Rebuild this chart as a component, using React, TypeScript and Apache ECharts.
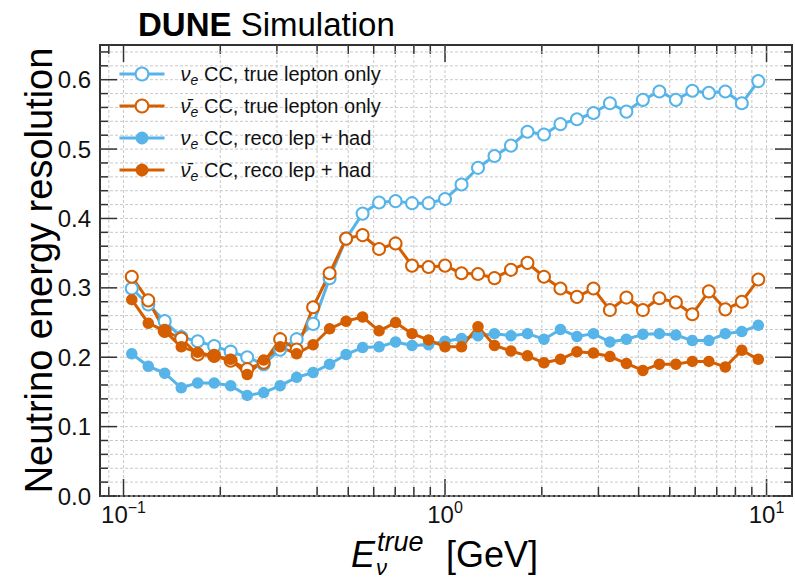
import React, { useEffect, useRef } from 'react';
import * as echarts from 'echarts';

// Bin centres (GeV)
const energies = [0.1061, 0.1194, 0.1343, 0.1512, 0.1701, 0.1914, 0.2154, 0.2425, 0.2728, 0.307, 0.3455, 0.3888, 0.4375, 0.4924, 0.5541, 0.6236, 0.7017, 0.7897, 0.8887, 1.0, 1.1253, 1.2663, 1.4251, 1.6036, 1.8047, 2.0309, 2.2855, 2.572, 2.8943, 3.2571, 3.6653, 4.1246, 4.6416, 5.2233, 5.878, 6.6147, 7.4438, 8.3768, 9.4267];

const nueTrueLepton = [0.299, 0.276, 0.252, 0.229, 0.223, 0.216, 0.208, 0.2, 0.19, 0.211, 0.226, 0.248, 0.314, 0.371, 0.407, 0.423, 0.425, 0.422, 0.422, 0.428, 0.449, 0.473, 0.49, 0.505, 0.525, 0.521, 0.536, 0.543, 0.552, 0.566, 0.554, 0.571, 0.583, 0.571, 0.584, 0.581, 0.583, 0.566, 0.598];
const nuebarTrueLepton = [0.316, 0.282, 0.238, 0.227, 0.204, 0.202, 0.195, 0.183, 0.192, 0.226, 0.211, 0.272, 0.321, 0.371, 0.376, 0.356, 0.364, 0.332, 0.33, 0.332, 0.321, 0.32, 0.314, 0.326, 0.336, 0.316, 0.299, 0.287, 0.299, 0.268, 0.286, 0.268, 0.285, 0.279, 0.262, 0.295, 0.269, 0.28, 0.312];
const nueReco = [0.205, 0.187, 0.177, 0.156, 0.163, 0.163, 0.159, 0.145, 0.149, 0.159, 0.171, 0.178, 0.19, 0.204, 0.214, 0.215, 0.222, 0.217, 0.218, 0.223, 0.227, 0.231, 0.234, 0.231, 0.234, 0.226, 0.24, 0.23, 0.234, 0.222, 0.226, 0.233, 0.234, 0.232, 0.224, 0.224, 0.234, 0.237, 0.246];
const nuebarReco = [0.283, 0.249, 0.238, 0.215, 0.207, 0.202, 0.197, 0.175, 0.196, 0.215, 0.205, 0.218, 0.241, 0.252, 0.258, 0.238, 0.25, 0.234, 0.225, 0.215, 0.215, 0.244, 0.217, 0.209, 0.202, 0.192, 0.197, 0.208, 0.206, 0.201, 0.191, 0.181, 0.19, 0.19, 0.194, 0.194, 0.186, 0.21, 0.197];

const seriesNames = ['νe CC, true lepton only', 'ν̄e CC, true lepton only', 'νe CC, reco lep + had', 'ν̄e CC, reco lep + had'];

const xMajorTicks = [0.1, 1, 10];
const xMinorTicks = [0.09, 0.2, 0.3, 0.4, 0.5, 0.6, 0.7, 0.8, 0.9, 2, 3, 4, 5, 6, 7, 8, 9];
const yMajorTicks = [0, 0.1, 0.2, 0.3, 0.4, 0.5, 0.6];
const yMinorTicks = [0.02, 0.04, 0.06, 0.08, 0.12, 0.14, 0.16, 0.18, 0.22, 0.24, 0.26, 0.28, 0.32, 0.34, 0.36, 0.38, 0.42, 0.44, 0.46, 0.48, 0.52, 0.54, 0.56, 0.58, 0.62, 0.64];

const BLUE = '#56B4E9';
const ORANGE = '#D55E00';
const FONT = '"Liberation Sans", Arial, Helvetica, sans-serif';

const legendRich: Record<string, string> = {
  [seriesNames[0]]: '{t|\u00a0\u00a0}{nu|ν}{sub|e}{t| CC, true lepton only}',
  [seriesNames[1]]: '{t|\u00a0\u00a0}{nu|ν̄}{sub|e}{t| CC, true lepton only}',
  [seriesNames[2]]: '{t|\u00a0\u00a0}{nu|ν}{sub|e}{t| CC, reco lep + had}',
  [seriesNames[3]]: '{t|\u00a0\u00a0}{nu|ν̄}{sub|e}{t| CC, reco lep + had}',
};

export default function App() {
  const ref = useRef<HTMLDivElement>(null);
  useEffect(() => {
    if (!ref.current) return;
    const chart = echarts.init(ref.current, undefined, { renderer: 'svg' });
    const lineSeries = (name: string, vals: number[], color: string, hollow: boolean) => ({
      name,
      type: 'line',
      data: energies.map((e, i) => [e, vals[i]]),
      symbol: hollow ? 'emptyCircle' : 'circle',
      symbolSize: hollow ? 12 : 11.5,
      showAllSymbol: true,
      z: 3,
      lineStyle: { color, width: 3 },
      itemStyle: { color, borderColor: color, borderWidth: hollow ? 1.6 : 0 },
      emphasis: { disabled: true },
    });
    const xTickData = [...xMajorTicks.map((v) => [v, 1]), ...xMinorTicks.map((v) => [v, 0])];
    const yTickData = [...yMajorTicks.map((v) => [1, v, 1]), ...yMinorTicks.map((v) => [1, v, 0])];
    const tickColor = '#333';
    const gridColor = '#c9c9c9';
    chart.setOption({
      animation: false,
      backgroundColor: '#fff',
      textStyle: { fontFamily: FONT },
      grid: { left: 100, right: -2, top: 45, bottom: 84, show: true, borderColor: '#333', borderWidth: 2, backgroundColor: 'transparent' },
      xAxis: {
        type: 'log',
        min: 0.0845,
        max: 12,
        axisLine: { show: false },
        axisTick: { show: false },
        splitLine: { show: false },
        minorSplitLine: { show: false },
        axisLabel: {
          margin: 3,
          showMinLabel: true,
          showMaxLabel: true,
          formatter: (v: number) => {
            const e = Math.log10(v);
            const r = Math.round(e);
            if (Math.abs(e - r) > 1e-6) return '';
            return '{b|10}{s|' + (r < 0 ? '−' + Math.abs(r) : String(r)) + '}';
          },
          rich: {
            b: { fontSize: 24, lineHeight: 30, color: '#111', fontFamily: FONT },
            s: { fontSize: 16, lineHeight: 16, verticalAlign: 'top', color: '#111', fontFamily: FONT },
          },
        },
      },
      yAxis: {
        type: 'value',
        min: 0,
        max: 0.65,
        interval: 0.1,
        axisLine: { show: false },
        axisTick: { show: false },
        splitLine: { show: false },
        axisLabel: {
          fontSize: 24,
          color: '#111',
          margin: 9,
          fontFamily: FONT,
          formatter: (v: number) => (Math.abs(v * 10 - Math.round(v * 10)) < 1e-6 ? v.toFixed(1) : ''),
        },
        name: 'Neutrino energy resolution',
        nameLocation: 'middle',
        nameGap: 42,
        nameMoveOverlap: false,
        nameTextStyle: { fontSize: 38, color: '#000', fontFamily: FONT },
      },
      legend: {
        orient: 'vertical',
        left: 118,
        top: 64,
        padding: 0,
        itemGap: 9,
        itemWidth: 45,
        itemHeight: 16,
        lineStyle: { width: 3 },
        data: seriesNames,
        formatter: (name: string) => legendRich[name],
        textStyle: {
          rich: {
            nu: { fontSize: 20, fontStyle: 'italic', lineHeight: 26, color: '#111', fontFamily: FONT },
            sub: { fontSize: 14, fontStyle: 'italic', lineHeight: 14, verticalAlign: 'bottom', color: '#111', fontFamily: FONT },
            t: { fontSize: 20, lineHeight: 26, color: '#111', fontFamily: FONT },
          },
        },
      },
      graphic: [
        {
          type: 'text',
          left: 138,
          top: 8,
          style: {
            text: '{b|DUNE}{n| Simulation}',
            rich: {
              b: { fontSize: 33, fontWeight: 'bold', fill: '#000', fontFamily: FONT },
              n: { fontSize: 33, fill: '#000', fontFamily: FONT },
            },
          },
        },
        { type: 'text', x: 351, y: 554, style: { text: 'E', fontSize: 36, fontStyle: 'italic', fill: '#000', fontFamily: FONT, verticalAlign: 'middle' } },
        { type: 'text', x: 377, y: 542, style: { text: 'true', fontSize: 27, fontStyle: 'italic', fill: '#000', fontFamily: FONT, verticalAlign: 'middle' } },
        { type: 'text', x: 376, y: 567, style: { text: 'ν', fontSize: 22, fontStyle: 'italic', fill: '#000', fontFamily: FONT, verticalAlign: 'middle' } },
        { type: 'text', x: 446, y: 554, style: { text: '[GeV]', fontSize: 36, fill: '#000', fontFamily: FONT, verticalAlign: 'middle' } },
      ],
      series: [
        {
          type: 'custom',
          coordinateSystem: 'cartesian2d',
          silent: true,
          z: 1,
          data: xTickData,
          renderItem: (params: any, api: any) => {
            const cs = params.coordSys;
            const x = api.coord([api.value(0), 0.3])[0];
            const len = api.value(1) === 1 ? 17 : 9;
            const top = cs.y;
            const bottom = cs.y + cs.height;
            return {
              type: 'group',
              children: [
                { type: 'line', shape: { x1: x, y1: top, x2: x, y2: bottom }, style: { stroke: gridColor, lineWidth: 1, lineDash: [3, 2] } },
                { type: 'line', shape: { x1: x, y1: bottom, x2: x, y2: bottom - len }, style: { stroke: tickColor, lineWidth: 1.5 } },
                { type: 'line', shape: { x1: x, y1: top, x2: x, y2: top + len }, style: { stroke: tickColor, lineWidth: 1.5 } },
              ],
            };
          },
        },
        {
          type: 'custom',
          coordinateSystem: 'cartesian2d',
          silent: true,
          z: 1,
          data: yTickData,
          renderItem: (params: any, api: any) => {
            const cs = params.coordSys;
            const y = api.coord([1, api.value(1)])[1];
            const len = api.value(2) === 1 ? 17 : 8;
            const left = cs.x;
            const right = cs.x + cs.width;
            return {
              type: 'group',
              children: [
                { type: 'line', shape: { x1: left, y1: y, x2: right, y2: y }, style: { stroke: gridColor, lineWidth: 1, lineDash: [3, 2] } },
                { type: 'line', shape: { x1: left, y1: y, x2: left + len, y2: y }, style: { stroke: tickColor, lineWidth: 1.5 } },
                { type: 'line', shape: { x1: right, y1: y, x2: right - len, y2: y }, style: { stroke: tickColor, lineWidth: 1.5 } },
              ],
            };
          },
        },
        lineSeries(seriesNames[0], nueTrueLepton, BLUE, true),
        lineSeries(seriesNames[1], nuebarTrueLepton, ORANGE, true),
        lineSeries(seriesNames[2], nueReco, BLUE, false),
        lineSeries(seriesNames[3], nuebarReco, ORANGE, false),
      ],
    });
    return () => chart.dispose();
  }, []);
  return <div ref={ref} style={{ position: 'absolute', left: 0, top: 0, width: 795, height: 580 }} />;
}
